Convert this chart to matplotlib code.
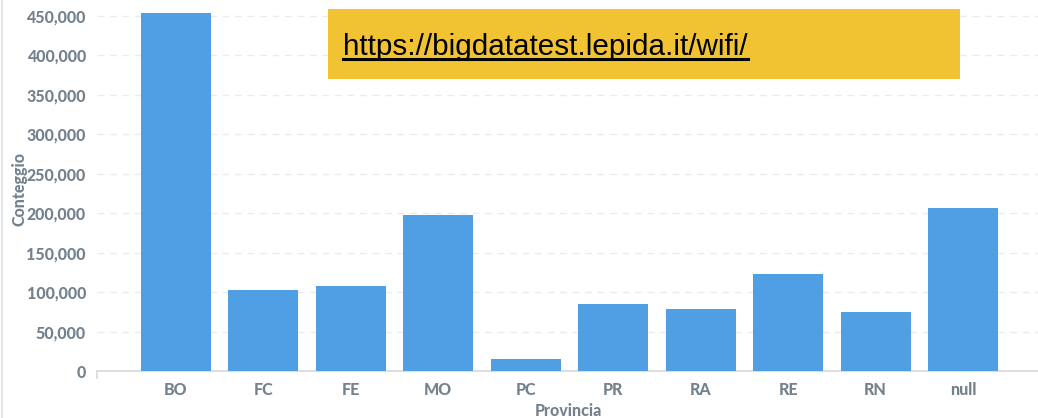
import matplotlib
matplotlib.use("Agg")
import matplotlib.pyplot as plt
from matplotlib.ticker import FuncFormatter
from matplotlib.lines import Line2D

provinces = ["BO", "FC", "FE", "MO", "PC", "PR", "RA", "RE", "RN", "null"]
counts = [454000, 102700, 108000, 198000, 15000, 85000, 78000, 123000, 75000, 207000]
yticks = [0, 50000, 100000, 150000, 200000, 250000, 300000, 350000, 400000, 450000]
url = "https://bigdatatest.lepida.it/wifi/"

W, H = 1038, 418
fig = plt.figure(figsize=(W / 100, H / 100), dpi=100)
ax = fig.add_axes([97 / W, 1 - 371 / H, (1040 - 97) / W, (371 - 8) / H])

grey = "#74828e"
FS = 11.5
ax.bar(range(len(provinces)), counts, width=0.8, color="#509ee3", zorder=3)
ax.set_xlim(-0.9, 9.88)
ax.set_ylim(0, 460000)
ax.set_yticks(yticks)
ax.yaxis.set_major_formatter(FuncFormatter(lambda v, p: f"{int(v):,}"))
ax.set_xticks(range(len(provinces)))
ax.set_xticklabels(provinces)
for lab in ax.get_xticklabels() + ax.get_yticklabels():
    lab.set_fontfamily("Lato")
    lab.set_fontweight("black")
    lab.set_fontsize(FS)
    lab.set_color(grey)
ax.tick_params(axis="both", length=0)
ax.tick_params(axis="x", pad=8)
ax.tick_params(axis="y", pad=8)
ax.grid(axis="y", color="#ebebeb", linestyle=(0, (5, 4)), linewidth=1, zorder=0)
for s in ["top", "right", "left"]:
    ax.spines[s].set_visible(False)
ax.spines["bottom"].set_color("#d6d9dc")
ax.spines["bottom"].set_linewidth(1.2)

ax.set_ylabel("Conteggio", fontfamily="Lato", fontweight="black", fontsize=FS, color=grey)
ax.set_xlabel("Provincia", fontfamily="Lato", fontweight="black", fontsize=FS, color=grey)
ax.yaxis.set_label_coords(-77 / (1040 - 97), 0.5)
ax.xaxis.set_label_coords(0.5, -40 / (371 - 8))
ax.xaxis.label.set_va("center")
ax.yaxis.label.set_va("center")

# small tick at left end of axis
fig.add_artist(Line2D([97 / W, 97 / W], [1 - 371 / H, 1 - 378 / H], color="#d6d9dc", lw=1.2))
# faint left border
fig.add_artist(Line2D([1.5 / W, 1.5 / W], [0, 1], color="#e3e6ea", lw=1.5))

# yellow banner
fig.patches.append(plt.Rectangle((328 / W, 1 - 79 / H), (960 - 328) / W, (79 - 9) / H,
                                 transform=fig.transFigure, facecolor="#f1c232",
                                 edgecolor="none", zorder=5))
t = fig.text(343 / W, 1 - 55 / H, url, fontfamily="Liberation Sans", fontsize=21.3,
             color="black", va="baseline", ha="left", zorder=6)
fig.canvas.draw()
bb = t.get_window_extent()
fig.add_artist(Line2D([bb.x0 / fig.bbox.width, bb.x1 / fig.bbox.width],
                      [1 - 58.5 / H, 1 - 58.5 / H], color="black", lw=2.2, zorder=7))

fig.savefig("out.png", dpi=100)
